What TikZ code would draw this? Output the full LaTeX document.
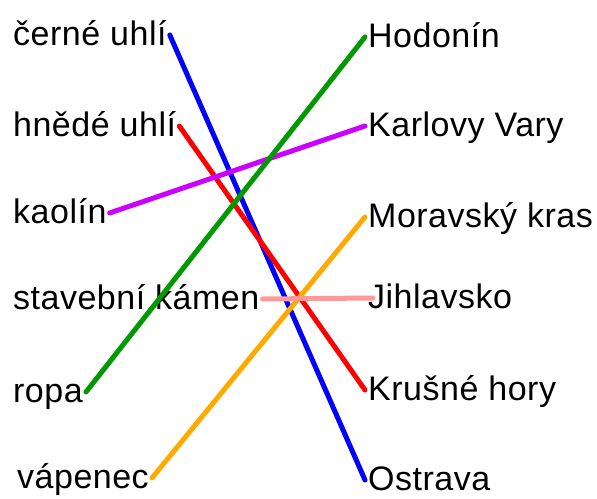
\documentclass[tikz,border=0pt]{standalone}
\usepackage{fontspec}
\setmainfont[LetterSpace=1.5]{Liberation Sans}
\usetikzlibrary{positioning}
\definecolor{lila}{RGB}{204,0,255}
\definecolor{zelena}{RGB}{0,153,0}
\definecolor{oranz}{RGB}{255,170,0}
\definecolor{ruzova}{RGB}{255,153,153}

\begin{document}
\begin{tikzpicture}[x=1pt,y=-1pt,
  word/.style={anchor=base west, inner ysep=0pt, inner xsep=3pt,
    text height=20pt, text depth=0pt, font=\fontsize{34}{40}\selectfont},
  link/.style={line width=5pt, line cap=round}]
  \useasboundingbox (0,0) rectangle (597,498);

  % suroviny
  \node[word] (cerne) at (10,45) {černé uhlí};
  \node[word] (hnede) at (10,136) {hnědé uhlí};
  \node[word] (kaolin) at (10,223) {kaolín};
  \node[word] (kamen) at (10,309) {stavební kámen};
  \node[word] (ropa) at (10,402) {ropa};
  \node[word] (vapenec) at (14,488) {vápenec};

  % místa
  \node[word] (hodonin) at (365,47) {Hodonín};
  \node[word] (vary) at (365,136) {Karlovy Vary};
  \node[word] (kras) at (365,227) {Moravský kras};
  \node[word] (jihlava) at (365,308) {Jihlavsko};
  \node[word] (krusne) at (365,400) {Krušné hory};
  \node[word] (ostrava) at (365,490) {Ostrava};

  \draw[link, blue] (cerne.east) -- (ostrava.west);
  \draw[link, red] (hnede.east) -- (krusne.west);
  \draw[link, lila] (kaolin.east) -- (vary.west);
  \draw[link, zelena] (ropa.east) -- (hodonin.west);
  \draw[link, oranz] (vapenec.east) -- (kras.west);
  \draw[link, ruzova] (kamen.east) -- ([xshift=8pt]jihlava.west);
\end{tikzpicture}
\end{document}
